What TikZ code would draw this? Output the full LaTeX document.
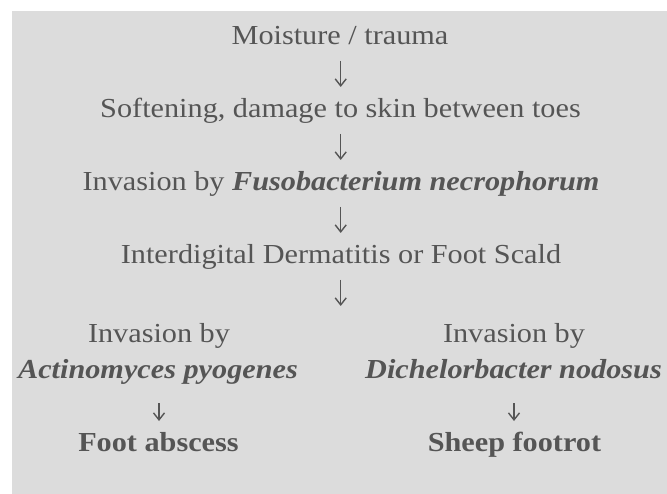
\documentclass[tikz,border=0pt]{standalone}
\usepackage{fontspec}
\usetikzlibrary{arrows.meta}
\setmainfont{Liberation Serif}[FakeStretch=1.1]
\definecolor{bg}{HTML}{DCDCDC}
\definecolor{ink}{HTML}{555555}
\begin{document}
\begin{tikzpicture}[x=1pt,y=-1pt,
  txt/.style={anchor=base, inner sep=0pt, text=ink, font=\fontsize{27.5}{33}\selectfont},
  conn/.style={draw=ink, line width=1.4pt, -{Straight Barb[length=7pt,width=11pt,line width=1.4pt]}}]
\useasboundingbox (0,0) rectangle (667,494);
\fill[bg] (12,11) rectangle (667,494);
\node[txt] (t1) at (340,45) {Moisture / trauma};
\node[txt] (t2) at (340.5,117.7) {Softening, damage to skin between toes};
\node[txt] (t3) at (341,191) {Invasion by \textbf{\textit{Fusobacterium necrophorum}}};
\node[txt] (t4) at (341,264) {Interdigital Dermatitis or Foot Scald};
\node[txt] (l1) at (159,342.7) {Invasion by};
\node[txt] (l2) at (158,379) {\textbf{\textit{Actinomyces pyogenes}}};
\node[txt] (l3) at (158.5,451.7) {\textbf{Foot abscess}};
\node[txt] (r1) at (514,342.7) {Invasion by};
\node[txt] (r2) at (513.5,378.5) {\textbf{\textit{Dichelorbacter nodosus}}};
\node[txt] (r3) at (514.5,451.7) {\textbf{Sheep footrot}};
\coordinate (a1s) at (340.7,61);  \coordinate (a1e) at (340.7,87);
\coordinate (a2s) at (340.7,134); \coordinate (a2e) at (340.7,160);
\coordinate (a3s) at (340.7,207); \coordinate (a3e) at (340.7,233);
\coordinate (a4s) at (340.7,280); \coordinate (a4e) at (340.7,306);
\coordinate (las) at (159,403);   \coordinate (lae) at (159,421);
\coordinate (ras) at (514,403);   \coordinate (rae) at (514,421);
\draw[conn] (a1s) -- (a1e);
\draw[conn] (a2s) -- (a2e);
\draw[conn] (a3s) -- (a3e);
\draw[conn] (a4s) -- (a4e);
\draw[conn] (las) -- (lae);
\draw[conn] (ras) -- (rae);
\end{tikzpicture}
\end{document}
